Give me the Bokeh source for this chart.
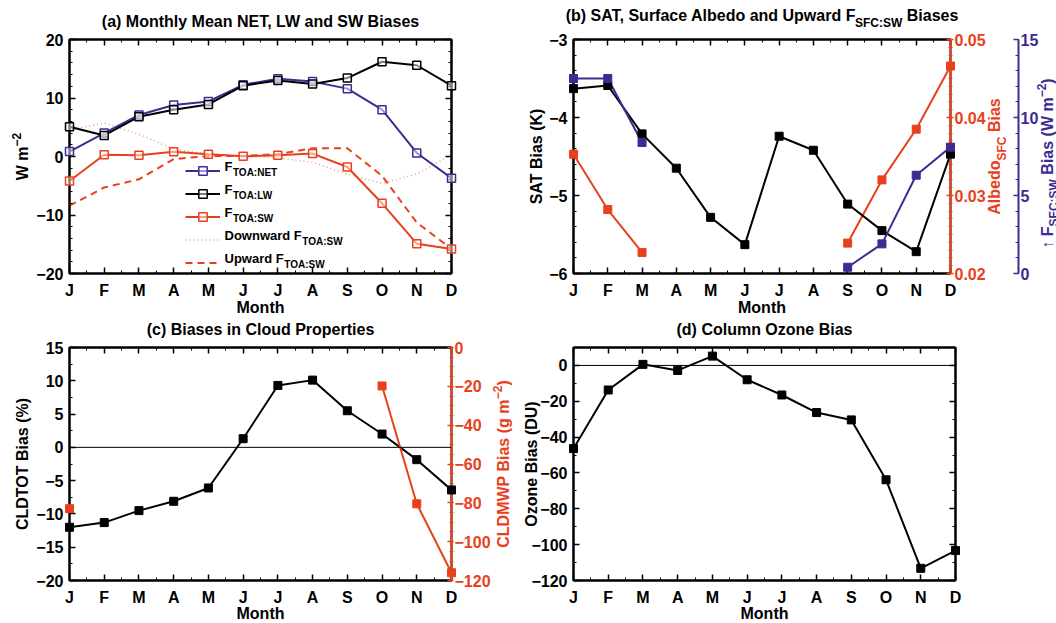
import math
from bokeh.plotting import figure
from bokeh.layouts import column, row
from bokeh.models import (Range1d, LinearAxis, FixedTicker, SingleIntervalTicker, GridBox,
                          CustomJSTickFormatter, Label, Span, Legend, LegendItem)
from bokeh.core.properties import value
from bokeh.embed import file_html
from bokeh.resources import INLINE

# ---------------- data ----------------
months = ["J", "F", "M", "A", "M", "J", "J", "A", "S", "O", "N", "D"]
nan = float("nan")

# (a) TOA flux biases (W m-2)
net_toa = [0.85, 4.0, 7.1, 8.8, 9.4, 12.25, 13.3, 12.8, 11.6, 8.0, 0.6, -3.7]
lw_toa = [5.1, 3.6, 6.8, 8.0, 8.9, 12.1, 13.0, 12.4, 13.4, 16.2, 15.6, 12.1]
sw_toa = [-4.2, 0.3, 0.2, 0.8, 0.4, 0.05, 0.2, 0.5, -1.8, -8.0, -14.9, -15.8]
down_sw_toa = [4.6, 5.7, 3.8, 1.25, 0.4, 0.0, -0.2, -1.0, -3.0, -4.6, -3.0, 0.3]
up_sw_toa = [-8.4, -5.3, -3.9, -0.45, 0.1, 0.1, 0.4, 1.4, 1.4, -3.3, -11.3, -15.8]

# (b) SAT (K), surface albedo, upward surface SW (W m-2)
sat_bias = [-3.63, -3.59, -4.21, -4.65, -5.28, -5.63, -4.24, -4.42, -5.11, -5.45, -5.72, -4.47]
albedo_bias = [0.0353, 0.0282, 0.0227, nan, nan, nan, nan, nan, 0.0239, 0.0320, 0.0385, 0.0466]
up_sw_sfc = [12.5, 12.5, 8.4, nan, nan, nan, nan, nan, 0.4, 1.9, 6.3, 8.1]

# (c) cloud biases
cldtot_bias = [-12.0, -11.3, -9.5, -8.1, -6.1, 1.3, 9.3, 10.1, 5.5, 2.0, -1.85, -6.4]
cldmwp_bias = [-83.0, nan, nan, nan, nan, nan, nan, nan, nan, -19.8, -80.5, -116.0]

# (d) column ozone bias (DU)
ozone_bias = [-46.4, -13.7, 0.6, -2.8, 5.2, -8.0, -16.5, -26.3, -30.4, -63.8, -113.2, -103.3]

x = list(range(len(months)))

# ---------------- style helpers ----------------
FONT = "Liberation Sans"
PURPLE = "#3D2A92"
RED = "#E8401C"
PAGE_W, PAGE_H = 1056, 623
BL = 5  # baseline correction of svg text

AW = {' ': 278, '!': 333, '(': 333, ')': 333, ',': 278, '-': 333, '.': 278, ':': 333, '%': 889,
      'A': 722, 'B': 722, 'C': 722, 'D': 722, 'E': 667, 'F': 611, 'G': 778, 'H': 722, 'I': 278,
      'J': 556, 'K': 722, 'L': 611, 'M': 833, 'N': 722, 'O': 778, 'P': 667, 'Q': 778, 'R': 722,
      'S': 667, 'T': 611, 'U': 722, 'V': 667, 'W': 944, 'X': 667, 'Y': 667, 'Z': 611,
      'a': 556, 'b': 611, 'c': 556, 'd': 611, 'e': 556, 'f': 333, 'g': 611, 'h': 611, 'i': 278,
      'j': 278, 'k': 556, 'l': 278, 'm': 889, 'n': 611, 'o': 611, 'p': 611, 'q': 611, 'r': 389,
      's': 556, 't': 333, 'u': 611, 'v': 556, 'w': 778, 'x': 556, 'y': 556, 'z': 500,
      '\u2212': 584, '\u2191': 500}
for d in "0123456789":
    AW[d] = 556


def tw(s, size):
    return sum(AW.get(c, 556) for c in s) * size / 1000.0


# transparent overlay figure that carries every text outside the plot frames
pt = figure(width=PAGE_W, height=PAGE_H, x_range=Range1d(0, 1), y_range=Range1d(0, 1),
            output_backend="svg", toolbar_location=None, min_border=0,
            x_axis_type=None, y_axis_type=None)
pt.outline_line_color = None
pt.background_fill_color = None
pt.border_fill_color = None


def lab(X, Y, text, size=16, angle=0.0, align="left", color="black", style="bold"):
    if angle == 0.0:
        Y = Y - BL
    else:
        X = X - BL
    pt.add_layout(Label(x=X, y=PAGE_H - Y, x_units="screen", y_units="screen", text=text,
                        angle=angle, text_font=FONT, text_font_size=f"{size}px",
                        text_font_style=style, text_color=color, text_align=align,
                        text_baseline="alphabetic"))


def rich(parts, X, Y, vertical=False, color="black"):
    total = sum(tw(p[0], p[1]) + (p[4] if len(p) > 4 else 0) for p in parts)
    s_along = -total / 2.0
    for p in parts:
        t, s, d = p[0], p[1], p[2]
        st = p[3] if len(p) > 3 else "bold"
        adj = p[4] if len(p) > 4 else 0
        stripped = t.lstrip(" ")
        off = tw(t[:len(t) - len(stripped)], s)
        pos = s_along + off
        if vertical:
            lab(X + d, Y - pos, stripped, s, angle=math.pi / 2, color=color, style=st)
        else:
            lab(X + pos, Y + d, stripped, s, color=color, style=st)
        s_along += tw(t, s) + adj


NEG = "return (tick < 0 ? '\u2212' : '') + Math.abs(tick).toString();"
BLANK = "return '';"


def style_axis(ax, color="black", tin=6, tout=0, min_in=3, min_out=0, show=True, standoff=6):
    ax.axis_line_color = color
    ax.axis_line_width = 2
    ax.major_tick_line_color = color
    ax.major_tick_line_width = 1.5
    ax.minor_tick_line_color = color
    ax.minor_tick_line_width = 1
    ax.major_tick_in = tin
    ax.major_tick_out = tout
    ax.minor_tick_in = min_in
    ax.minor_tick_out = min_out
    ax.major_label_text_font = FONT
    ax.major_label_text_font_style = "bold"
    ax.major_label_text_color = color
    ax.major_label_text_font_size = "16px"
    ax.major_label_standoff = standoff if show else 0
    if not show:
        ax.formatter = CustomJSTickFormatter(code=BLANK)


def month_ticker():
    return FixedTicker(ticks=x, minor_ticks=[i + 0.5 for i in range(len(months) - 1)])


def make_fig(W, H, bl, br, bt, bb, yr, yint, yminor, mirror_right=True):
    p = figure(width=W, height=H, x_range=Range1d(0, len(months) - 1), y_range=Range1d(*yr),
               output_backend="svg", toolbar_location=None,
               min_border_left=bl, min_border_right=br, min_border_top=bt, min_border_bottom=bb)
    p.xgrid.visible = False
    p.ygrid.visible = False
    p.outline_line_color = "black"
    p.outline_line_width = 2
    p.background_fill_color = "white"
    p.border_fill_color = "white"
    xa = p.below[0]
    xa.ticker = month_ticker()
    xa.major_label_overrides = {i: m for i, m in enumerate(months)}
    style_axis(xa, standoff=8)
    ya = p.left[0]
    ya.ticker = SingleIntervalTicker(interval=yint, num_minor_ticks=yminor)
    ya.formatter = CustomJSTickFormatter(code=NEG)
    style_axis(ya, standoff=6)
    top = LinearAxis(ticker=month_ticker())
    style_axis(top, show=False)
    p.add_layout(top, "above")
    if mirror_right:
        rt = LinearAxis(ticker=SingleIntervalTicker(interval=yint, num_minor_ticks=yminor))
        style_axis(rt, show=False)
        p.add_layout(rt, "right")
    return p


# ---------------- (a) ----------------
pa = make_fig(511, 315, 69, 60, 39, 42, (-20, 20), 10, 5)

r_down = pa.line(x, down_sw_toa, line_color=RED, line_alpha=0.55, line_width=1.5, line_dash="1 3")
r_up = pa.line(x, up_sw_toa, line_color=RED, line_width=2, line_dash="7 5")
r_swl = pa.line(x, sw_toa, line_color=RED, line_width=2)
r_sws = pa.scatter(x, sw_toa, marker="square", size=8, line_color=RED, line_width=1.5,
                   fill_color="white", fill_alpha=0.5, level="overlay")
r_netl = pa.line(x, net_toa, line_color=PURPLE, line_width=2)
r_nets = pa.scatter(x, net_toa, marker="square", size=8, line_color=PURPLE, line_width=1.5,
                    fill_color="white", fill_alpha=0.5, level="overlay")
r_lwl = pa.line(x, lw_toa, line_color="black", line_width=2)
r_lws = pa.scatter(x, lw_toa, marker="square", size=8, line_color="black", line_width=1.5,
                   fill_color="white", fill_alpha=0.5, level="overlay")

legend = Legend(items=[
    LegendItem(label=value(" "), renderers=[r_netl, r_nets]),
    LegendItem(label=value(" "), renderers=[r_lwl, r_lws]),
    LegendItem(label=value(" "), renderers=[r_swl, r_sws]),
    LegendItem(label=value(" "), renderers=[r_down]),
    LegendItem(label=value(" "), renderers=[r_up]),
], location=(116, 0), glyph_width=35, glyph_height=21, spacing=2, padding=0, margin=0,
    label_width=0, label_height=0, label_standoff=0, label_text_font_size="1px",
    border_line_alpha=0, background_fill_alpha=0)
pa.add_layout(legend)

leg_texts = [("F", "TOA:NET"), ("F", "TOA:LW"), ("F", "TOA:SW"),
             ("Downward F", "TOA:SW"), ("Upward F", "TOA:SW")]
for i, (main, sub) in enumerate(leg_texts):
    yc = 273 - 10.5 - (len(leg_texts) - 1 - i) * 23
    lab(224, yc, main, 13)
    lab(224 + tw(main, 13) + 0.5, yc + 6, sub, 10)

lab(260, 26, "(a) Monthly Mean NET, LW and SW Biases", 16, align="center")
rich([("W m", 16, 0), ("\u22122", 12, -6)], 26.5, 156, vertical=True)
lab(260, 312, "Month", 16, align="center")

# ---------------- (b) ----------------
pb = make_fig(545, 315, 62, 106, 39, 42, (-6, -3), 1, 5, mirror_right=False)
pb.extra_y_ranges = {"alb": Range1d(0.02, 0.05), "fsw": Range1d(0, 15)}
alb_ax = LinearAxis(y_range_name="alb", ticker=SingleIntervalTicker(interval=0.01, num_minor_ticks=10),
                    formatter=CustomJSTickFormatter(code="return tick.toFixed(2);"))
style_axis(alb_ax, color=RED, tin=4, tout=3, min_in=2, min_out=2, standoff=1)
alb_ax.axis_label = " "
alb_ax.axis_label_standoff = 10
alb_ax.axis_label_text_font_size = "16px"
pb.add_layout(alb_ax, "right")
fsw_ax = LinearAxis(y_range_name="fsw", ticker=SingleIntervalTicker(interval=5, num_minor_ticks=5),
                    formatter=CustomJSTickFormatter(code=NEG))
style_axis(fsw_ax, color=PURPLE, tin=5, tout=0, min_in=3, min_out=0, standoff=2)
pb.add_layout(fsw_ax, "right")

pb.line(x, albedo_bias, y_range_name="alb", line_color=RED, line_width=2)
pb.scatter(x, albedo_bias, y_range_name="alb", marker="square", size=8, color=RED, level="overlay")
pb.line(x, sat_bias, line_color="black", line_width=2)
pb.scatter(x, sat_bias, marker="square", size=8, color="black", level="overlay")
pb.line(x, up_sw_sfc, y_range_name="fsw", line_color=PURPLE, line_width=2)
pb.scatter(x, up_sw_sfc, y_range_name="fsw", marker="square", size=8, color=PURPLE, level="overlay")

rich([("(b) SAT, Surface Albedo and Upward F", 16, 0, "bold", -4), ("SFC:SW", 12, 7.5),
      (" Biases", 16, 0)], 761.5, 19.5)
lab(541, 156, "SAT Bias (K)", 16, angle=math.pi / 2, align="center")
rich([("Albedo", 16, 0), ("SFC", 12, 7.5), (" Bias", 16, 0)], 998.5, 156,
     vertical=True, color=RED)
rich([("\u2191 ", 16, 0, "normal"), ("F", 16, 0), ("SFC:SW", 12, 6.5),
      (" Bias (W m", 16, 0), ("\u22122", 12, -6), (")", 16, 0)], 1051.5, 163,
     vertical=True, color=PURPLE)
lab(761.5, 312, "Month", 16, align="center")

# ---------------- (c) ----------------
pc = make_fig(511, 308, 69, 60, 32, 43, (-20, 15), 5, 2, mirror_right=False)
pc.extra_y_ranges = {"mwp": Range1d(-120, 0)}
mwp_ax = LinearAxis(y_range_name="mwp", ticker=SingleIntervalTicker(interval=20, num_minor_ticks=4),
                    formatter=CustomJSTickFormatter(code=NEG))
style_axis(mwp_ax, color=RED, tin=4, tout=2, min_in=2, min_out=2, standoff=1)
pc.add_layout(mwp_ax, "right")
pc.add_layout(Span(location=0, dimension="width", line_color="black", line_width=1))

pc.line(x, cldtot_bias, line_color="black", line_width=2)
pc.scatter(x, cldtot_bias, marker="square", size=8, color="black", level="overlay")
pc.line(x, cldmwp_bias, y_range_name="mwp", line_color=RED, line_width=2)
pc.scatter(x, cldmwp_bias, y_range_name="mwp", marker="square", size=8, color=RED, level="overlay")

lab(260, 334, "(c) Biases in Cloud Properties", 16, align="center")
lab(27, 463.5, "CLDTOT Bias (%)", 16, angle=math.pi / 2, align="center")
rich([("CLDMWP Bias (g m", 16, 0), ("\u22122", 12, -6), (")", 16, 0)], 508, 463.5,
     vertical=True, color=RED)
lab(260, 618, "Month", 16, align="center")

# ---------------- (d) ----------------
pd_ = make_fig(545, 308, 62, 101, 32, 43, (-120, 10), 20, 2)
pd_.add_layout(Span(location=0, dimension="width", line_color="black", line_width=1))
pd_.line(x, ozone_bias, line_color="black", line_width=2)
pd_.scatter(x, ozone_bias, marker="square", size=8, color="black", level="overlay")

lab(764, 334, "(d) Column Ozone Bias", 16, align="center")
lab(536, 463.5, "Ozone Bias (DU)", 16, angle=math.pi / 2, align="center")
lab(764, 618, "Month", 16, align="center")

panels = column(row(pa, pb), row(pc, pd_))
layout = GridBox(children=[(panels, 0, 0), (pt, 0, 0)], spacing=0)
open("out.html", "w").write(file_html(layout, INLINE))
